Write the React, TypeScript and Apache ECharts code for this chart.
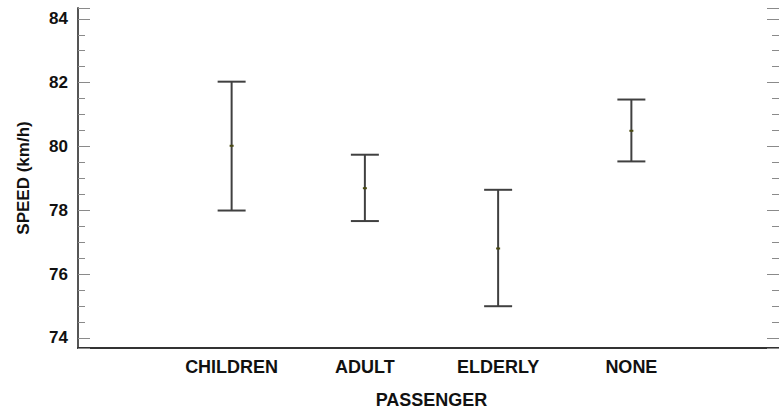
import React, { useEffect, useRef } from "react";
import * as echarts from "echarts";

// Mean speed with its interval for each passenger group
const categories = ["CHILDREN", "ADULT", "ELDERLY", "NONE"];
const lowerValues = [77.99, 77.66, 74.99, 79.53];
const meanValues = [80.02, 78.69, 76.8, 80.49];
const upperValues = [82.03, 79.74, 78.64, 81.47];
const yTickLabels = [74, 76, 78, 80, 82, 84];

const Y_MIN = 73.68;
const Y_MAX = 84.34;
const FONT = "'Liberation Sans', Arial, Helvetica, sans-serif";

export default function App() {
  const ref = useRef<HTMLDivElement | null>(null);

  useEffect(() => {
    if (!ref.current) return;
    const chart = echarts.init(ref.current, null, { renderer: "svg" });

    const tickStyle = { color: "#8a8a8a", width: 1 };

    chart.setOption({
      animation: false,
      backgroundColor: "#ffffff",
      grid: [
        // frame with the axis lines and ticks
        { left: 78, top: 8, right: -4, bottom: 68 },
        // plotting area for the categories
        { left: 165, top: 8, right: 81, bottom: 68 },
      ],
      xAxis: [
        {
          gridIndex: 0,
          type: "value",
          min: 0,
          max: 1,
          axisLine: { show: true, onZero: false, lineStyle: { color: "#333333", width: 2 } },
          axisTick: { show: false },
          axisLabel: { show: false },
          splitLine: { show: false },
        },
        {
          gridIndex: 1,
          type: "category",
          data: categories,
          axisLine: { show: false, onZero: false },
          axisTick: { show: false },
          splitLine: { show: false },
          axisLabel: {
            interval: 0,
            margin: 10,
            fontFamily: FONT,
            fontWeight: "bold",
            fontSize: 18,
            color: "#111111",
          },
          name: "PASSENGER",
          nameLocation: "middle",
          nameGap: 43,
          nameTextStyle: {
            fontFamily: FONT,
            fontWeight: "bold",
            fontSize: 18,
            color: "#111111",
          },
        },
      ],
      yAxis: [
        {
          gridIndex: 0,
          type: "value",
          position: "left",
          min: Y_MIN,
          max: Y_MAX,
          axisLine: { show: true, onZero: false, lineStyle: { color: "#555555", width: 2 } },
          axisTick: { show: true, inside: true, length: 12, lineStyle: tickStyle },
          minorTick: { show: true, splitNumber: 4, length: 7, lineStyle: tickStyle },
          splitLine: { show: false },
          minorSplitLine: { show: false },
          axisLabel: {
            margin: 10,
            fontFamily: FONT,
            fontWeight: "bold",
            fontSize: 17,
            color: "#111111",
            formatter: (v: number) => {
              const r = Math.round(v);
              return Math.abs(v - r) < 1e-6 && yTickLabels.includes(r) ? String(r) : "";
            },
          },
          name: "SPEED (km/h)",
          nameLocation: "middle",
          nameGap: 46,
          nameTextStyle: {
            fontFamily: FONT,
            fontWeight: "bold",
            fontSize: 17,
            color: "#111111",
          },
        },
        {
          gridIndex: 0,
          type: "value",
          position: "right",
          min: Y_MIN,
          max: Y_MAX,
          axisLine: { show: false, onZero: false },
          axisTick: { show: true, inside: true, length: 12, lineStyle: tickStyle },
          minorTick: { show: true, splitNumber: 4, length: 7, lineStyle: tickStyle },
          splitLine: { show: false },
          minorSplitLine: { show: false },
          axisLabel: { show: false },
        },
        {
          gridIndex: 1,
          type: "value",
          min: Y_MIN,
          max: Y_MAX,
          show: false,
          axisLine: { onZero: false },
          splitLine: { show: false },
        },
      ],
      series: [
        {
          type: "custom",
          xAxisIndex: 1,
          yAxisIndex: 2,
          encode: { x: 0, y: [1, 2, 3] },
          data: categories.map((_, i) => [i, lowerValues[i], meanValues[i], upperValues[i]]),
          renderItem: (_params: any, api: any) => {
            const idx = api.value(0);
            const low = api.coord([idx, api.value(1)]);
            const mean = api.coord([idx, api.value(2)]);
            const high = api.coord([idx, api.value(3)]);
            const x = low[0];
            const half = 14;
            const style = { stroke: "#404040", lineWidth: 2 };
            return {
              type: "group",
              children: [
                { type: "line", shape: { x1: x, y1: high[1], x2: x, y2: low[1] }, style },
                { type: "line", shape: { x1: x - half, y1: high[1], x2: x + half, y2: high[1] }, style },
                { type: "line", shape: { x1: x - half, y1: low[1], x2: x + half, y2: low[1] }, style },
                {
                  type: "rect",
                  shape: { x: x - 2, y: mean[1] - 1, width: 4, height: 2 },
                  style: { fill: "#4a4a12" },
                },
              ],
            };
          },
        },
      ],
    });

    return () => chart.dispose();
  }, []);

  return (
    <div
      ref={ref}
      style={{ position: "fixed", left: 0, top: 0, width: 779, height: 416 }}
    />
  );
}
